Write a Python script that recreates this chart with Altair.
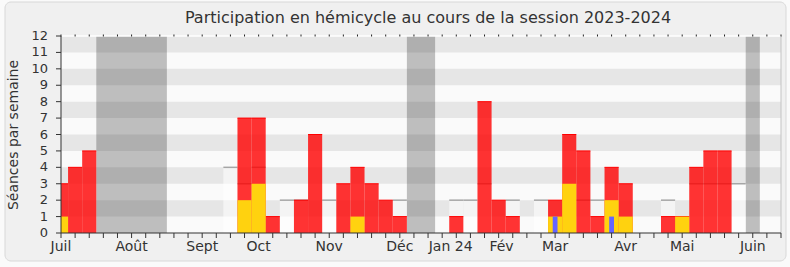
import altair as alt
import pandas as pd

# ---- data ----
weeks = list(range(52))
presences = [3, 4, 5, 0, 0, 0, 0, 0,
             0, 0, 0, 0, 0, 7, 7, 1,
             0, 2, 6, 0, 3, 4, 3, 2,
             1, 0, 0, 0, 1, 0, 8, 2,
             1, 0, 0, 2, 6, 5, 1, 4,
             3, 0, 0, 1, 1, 4, 5, 5,
             0, 0, 0, 0]
interventions = [1, 0, 0, 0, 0, 0, 0, 0,
                 0, 0, 0, 0, 0, 2, 3, 0,
                 0, 0, 0, 0, 0, 1, 0, 0,
                 0, 0, 0, 0, 0, 0, 0, 0,
                 0, 0, 0, 1, 3, 0, 0, 2,
                 1, 0, 0, 0, 1, 0, 0, 0,
                 0, 0, 0, 0]
questions = [0] * 35 + [1, 0, 0, 0, 1] + [0] * 12
median_weeks = [12, 13, 14, 16, 17, 19, 24, 28, 29, 30, 32, 34, 37, 38, 43, 45, 46, 47, 48]
median_vals = [4, 3, 4, 2, 2, 2, 2, 2, 2, 3, 2, 2, 2, 2, 2, 3, 3, 3, 3]
vac_start = [2.5, 24.5, 48.5]
vac_end = [7.5, 26.5, 49.5]
month_labels = ["Juil", "Août", "Sept", "Oct", "Nov", "Déc", "Jan 24", "Fév", "Mar", "Avr", "Mai", "Juin"]
month_pos = [0, 5, 10, 14, 19, 24, 27.6, 31.2, 35, 40, 44, 49]
y_ticks = list(range(13))
stripe_lo = [1, 3, 5, 7, 9, 11]
stripe_hi = [2, 4, 6, 8, 10, 12]

TITLE = "Participation en hémicycle au cours de la session 2023-2024"
YTITLE = "Séances par semaine"
FONT = "DejaVu Sans"
W, H = 720, 197
AX = "#333333"

df = pd.DataFrame({"week": weeks, "pres": presences, "inter": interventions, "quest": questions})
med = pd.DataFrame({"week": median_weeks, "med": median_vals})
vac = pd.DataFrame({"s": vac_start, "e": vac_end})
stripes = pd.DataFrame({"lo": stripe_lo, "hi": stripe_hi})
months = pd.DataFrame({"pos": month_pos, "label": month_labels})
yt = pd.DataFrame({"v": y_ticks})
one = pd.DataFrame({"a": [0]})

xs = alt.Scale(domain=[0, 51], nice=False, zero=False)
ys = alt.Scale(domain=[0, 12], nice=False)

panel = alt.Chart(one).mark_rect(cornerRadius=6, fill="#f0f0f0", stroke="#d8d8d8", strokeWidth=1).encode(
    x=alt.value(-56), x2=alt.value(725), y=alt.value(-34), y2=alt.value(225))

plot_bg = alt.Chart(one).mark_rect(fill="#fafafa").encode(
    x=alt.value(0), x2=alt.value(W), y=alt.value(0), y2=alt.value(H))

stripe_layer = alt.Chart(stripes).mark_rect(fill="#e6e6e6").encode(
    x=alt.value(0), x2=alt.value(W),
    y=alt.Y("lo:Q", scale=ys, axis=None), y2="hi:Q")

vac_layer = alt.Chart(vac).mark_rect(fill="#000000", opacity=0.24).encode(
    x=alt.X("s:Q", scale=xs, axis=None), x2="e:Q",
    y=alt.value(0), y2=alt.value(H))

med_area = alt.Chart(med).transform_calculate(x0="datum.week-0.5", x1="datum.week+0.5").mark_rect(
    fill="#ffffff", opacity=0.55).encode(
    x=alt.X("x0:Q", axis=None), x2="x1:Q",
    y=alt.Y("med:Q", axis=None), y2=alt.value(H))

med_line = alt.Chart(med).transform_calculate(x0="datum.week-0.5", x1="datum.week+0.5").mark_rule(
    color="#a6a6a6", strokeWidth=1.5).encode(
    x=alt.X("x0:Q", axis=None), x2="x1:Q",
    y=alt.Y("med:Q", axis=None))

red = alt.Chart(df).transform_filter("datum.pres > 0").transform_calculate(
    x0="datum.week-0.5", x1="datum.week+0.5").mark_rect(color="#ff0000", opacity=0.8, clip=True).encode(
    x=alt.X("x0:Q", axis=None), x2="x1:Q",
    y=alt.Y("pres:Q", axis=None), y2=alt.value(H))

red_top = alt.Chart(df).transform_filter("datum.pres > 0").transform_calculate(
    x0="max(datum.week-0.5, 0)", x1="datum.week+0.5").mark_rule(color="#ff0000", strokeWidth=1).encode(
    x=alt.X("x0:Q", axis=None), x2="x1:Q",
    y=alt.Y("pres:Q", axis=None))

yellow = alt.Chart(df).transform_filter("datum.inter > 0").transform_calculate(
    x0="datum.week-0.5", x1="datum.week+0.5").mark_rect(color="#ffd20f", clip=True).encode(
    x=alt.X("x0:Q", axis=None), x2="x1:Q",
    y=alt.Y("inter:Q", axis=None), y2=alt.value(H))

blue = alt.Chart(df).transform_filter("datum.quest > 0").transform_calculate(
    x0="datum.week-0.17", x1="datum.week+0.17").mark_rect(color="#6464ff").encode(
    x=alt.X("x0:Q", axis=None), x2="x1:Q",
    y=alt.Y("quest:Q", axis=None), y2=alt.value(H))

# hand-drawn axes
right_edge = alt.Chart(one).mark_rule(color="#c4c4c4", strokeWidth=1).encode(
    x=alt.value(W), y=alt.value(0), y2=alt.value(H))
top_line = alt.Chart(one).mark_rule(color="#ffffff", strokeWidth=1.5).encode(
    x=alt.value(0), x2=alt.value(W), y=alt.value(0))
top_ticks = alt.Chart(df).mark_rule(color="#222222", strokeWidth=1).encode(
    x=alt.X("week:Q", axis=None), y=alt.value(-1.5), y2=alt.value(0.5))
x_dom = alt.Chart(one).mark_rule(color=AX, strokeWidth=1).encode(
    x=alt.value(0), x2=alt.value(W), y=alt.value(H))
x_ticks = alt.Chart(df).mark_rule(color=AX, strokeWidth=1).encode(
    x=alt.X("week:Q", axis=None), y=alt.value(H), y2=alt.value(H + 5))
y_dom = alt.Chart(one).mark_rule(color=AX, strokeWidth=1).encode(
    x=alt.value(0), y=alt.value(0), y2=alt.value(H))
y_tick_marks = alt.Chart(yt).mark_rule(color=AX, strokeWidth=1).encode(
    y=alt.Y("v:Q", axis=None), x=alt.value(-5), x2=alt.value(0))
y_labels = alt.Chart(yt).mark_text(font=FONT, fontSize=13, color=AX, align="right", baseline="middle").encode(
    y=alt.Y("v:Q", axis=None), x=alt.value(-13), text="v:Q")

month_text = alt.Chart(months).mark_text(font=FONT, fontSize=14, color=AX, align="center",
                                         baseline="alphabetic").encode(
    x=alt.X("pos:Q", axis=None), y=alt.value(H + 18), text="label:N")

title_text = alt.Chart(one).mark_text(text=TITLE, font=FONT, fontSize=16, color=AX,
                                      align="center", baseline="middle").encode(
    x=alt.value(367), y=alt.value(-18))

ytitle_text = alt.Chart(one).mark_text(text=YTITLE, font=FONT, fontSize=14, color=AX,
                                       align="center", baseline="middle", angle=270).encode(
    x=alt.value(-47), y=alt.value(99))

chart = alt.layer(
    panel, plot_bg, stripe_layer, vac_layer, med_area, med_line, red, red_top, yellow, blue,
    right_edge, top_line, top_ticks, x_dom, x_ticks, y_dom, y_tick_marks, y_labels,
    month_text, title_text, ytitle_text
).resolve_scale(x="shared", y="shared").properties(
    width=W, height=H, autosize="none",
    padding={"left": 61, "top": 36, "right": 9, "bottom": 34},
    background="#fafafa"
).configure_view(stroke=None)

chart.save("out.html", embed_options={"renderer": "svg", "actions": False})
